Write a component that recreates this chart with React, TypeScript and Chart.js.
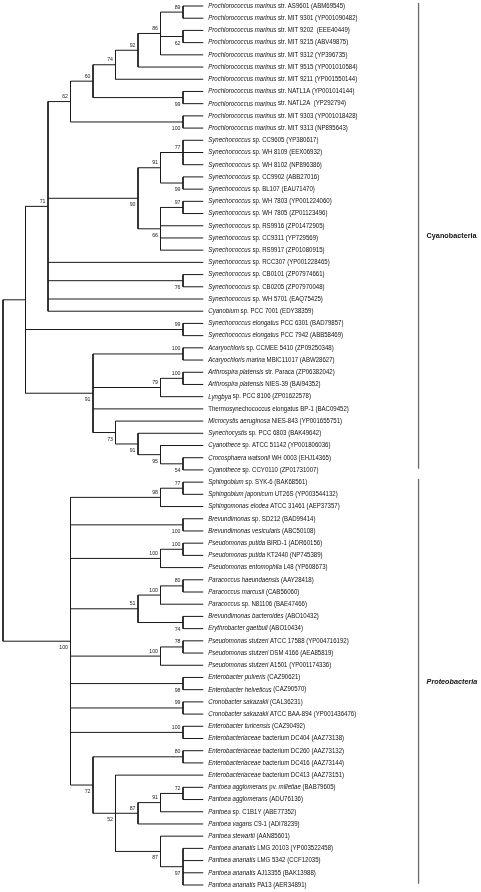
import React, { useEffect, useRef } from 'react';
import { Chart, registerables } from 'chart.js';
Chart.register(...registerables);

// ---- Leaf taxa (top to bottom); *...* marks italic text ----
const taxa: string[] = [
  '*Prochlorococcus marinus* str. AS9601',
  '*Prochlorococcus marinus* str. MIT 9301',
  '*Prochlorococcus marinus* str. MIT 9202',
  '*Prochlorococcus marinus* str. MIT 9215',
  '*Prochlorococcus marinus* str. MIT 9312',
  '*Prochlorococcus marinus* str. MIT 9515',
  '*Prochlorococcus marinus* str. MIT 9211',
  '*Prochlorococcus marinus* str. NATL1A',
  '*Prochlorococcus marinus* str. NATL2A',
  '*Prochlorococcus marinus* str. MIT 9303',
  '*Prochlorococcus marinus* str. MIT 9313',
  '*Synechococcus* sp. CC9605',
  '*Synechococcus* sp. WH 8109',
  '*Synechococcus* sp. WH 8102',
  '*Synechococcus* sp. CC9902',
  '*Synechococcus* sp. BL107',
  '*Synechococcus* sp. WH 7803',
  '*Synechococcus* sp. WH 7805',
  '*Synechococcus* sp. RS9916',
  '*Synechococcus* sp. CC9311',
  '*Synechococcus* sp. RS9917',
  '*Synechococcus* sp. RCC307',
  '*Synechococcus* sp. CB0101',
  '*Synechococcus* sp. CB0205',
  '*Synechococcus* sp. WH 5701',
  '*Cyanobium* sp. PCC 7001',
  '*Synechococcus elongatus* PCC 6301',
  '*Synechococcus elongatus* PCC 7942',
  '*Acaryochloris* sp. CCMEE 5410',
  '*Acaryochloris marina* MBIC11017',
  '*Arthrospira platensis* str. Paraca',
  '*Arthrospira platensis* NIES-39',
  '*Lyngbya* sp. PCC 8106',
  'Thermosynechococcus elongatus BP-1',
  '*Microcystis aeruginosa* NIES-843',
  '*Synechocystis* sp. PCC 6803',
  '*Cyanothece* sp. ATCC 51142',
  '*Crocosphaera watsonii* WH 0003',
  '*Cyanothece* sp. CCY0110',
  '*Sphingobium* sp. SYK-6',
  '*Sphingobium japonicum* UT26S',
  '*Sphingomonas elodea* ATCC 31461',
  '*Brevundimonas* sp. SD212',
  '*Brevundimonas vesicularis*',
  '*Pseudomonas putida* BIRD-1',
  '*Pseudomonas putida* KT2440',
  '*Pseudomonas entomophila* L48',
  '*Paracoccus haeundaensis*',
  '*Paracoccus marcusii*',
  '*Paracoccus* sp. N81106',
  '*Brevundimonas bacteroides*',
  '*Erythrobacter gaetbuli*',
  '*Pseudomonas stutzeri* ATCC 17588',
  '*Pseudomonas stutzeri* DSM 4166',
  '*Pseudomonas stutzeri* A1501',
  '*Enterobacter pulveris*',
  '*Enterobacter helveticus*',
  '*Cronobacter sakazakii*',
  '*Cronobacter sakazakii* ATCC BAA-894',
  '*Enterobacter turicensis*',
  '*Enterobacteriaceae* bacterium DC404',
  '*Enterobacteriaceae* bacterium DC260',
  '*Enterobacteriaceae* bacterium DC416',
  '*Enterobacteriaceae* bacterium DC413',
  '*Pantoea agglomerans* pv. *milletiae*',
  '*Pantoea agglomerans*',
  '*Pantoea* sp. C1B1Y',
  '*Pantoea vagans* C9-1',
  '*Pantoea stewartii*',
  '*Pantoea ananatis* LMG 20103',
  '*Pantoea ananatis* LMG 5342',
  '*Pantoea ananatis* AJ13355',
  '*Pantoea ananatis* PA13',
];

const accessions: string[] = [
  '(ABM69545)', '(YP001090482)', ' (EEE40449)', '(ABV49875)', '(YP396735)',
  '(YP001010584)', '(YP001550144)', '(YP001014144)', ' (YP292794)', '(YP001018428)',
  '(NP895643)', '(YP380617)', '(EEX06932)', '(NP896386)', '(ABB27016)',
  '(EAU71470)', '(YP001224060)', '(ZP01123496)', '(ZP01472905)', '(YP729569)',
  '(ZP01080915)', '(YP001228465)', '(ZP07974661)', '(ZP07970048)', '(EAQ75425)',
  '(EDY38359)', '(BAD79857)', '(ABB58469)', '(ZP09250348)', '(ABW28627)',
  '(ZP06382042)', '(BAI94352)', '(ZP01622578)', '(BAC09452)', '(YP001655751)',
  '(BAK49642)', '(YP001806036)', '(EHJ14365)', '(ZP01731007)', '(BAK68561)',
  '(YP003544132)', '(AEP37357)', '(BAD99414)', '(ABC50108)', '(ADR60156)',
  '(NP745389)', '(YP608673)', '(AAY28418)', '(CAB56060)', '(BAE47466)',
  '(ABO10432)', '(ABO10434)', '(YP004716192)', '(AEA85819)', '(YP001174336)',
  '(CAZ90621)', '(CAZ90570)', '(CAL36231)', '(YP001436476)', '(CAZ90492)',
  '(AAZ73138)', '(AAZ73132)', '(AAZ73144)', '(AAZ73151)', '(BAB79605)',
  '(ADU76136)', '(ABE77352)', '(ADI78239)', '(AAN85601)', '(YP003522458)',
  '(CCF12035)', '(BAK13988)', '(AER34891)',
];

// ---- Tree topology: internal nodes (children: leaf index or node id) ----
const nodeIds: string[] = [
  'A', 'B', 'C', 'D', 'E', 'F', 'G', 'H', 'I', 'J', 'K', 'L', 'M', 'N', 'O', 'P', 'Q', 'R',
  'U', 'W', 'V', 'AA', 'Z', 'Y', 'X', 'T', 'S',
  'BB', 'CC', 'DD', 'EE', 'FF', 'GG', 'HH', 'II', 'JJ', 'KK', 'LL', 'MM', 'NN', 'OO', 'PP',
  'QQ', 'RR', 'SS', 'TT', 'UU', 'VV', 'WW', 'XX', 'ROOT',
];
const nodeChildren: (number | string)[][] = [
  [0, 1], [2, 3], ['A', 'B', 4], ['C', 5], ['D', 6], [7, 8], ['E', 'F'], [9, 10], ['G', 'H'],
  [11, 12, 13], [14, 15], ['J', 'K'], [16, 17], ['M', 18, 19, 20], ['L', 'N'], [22, 23],
  ['I', 'O', 21, 'P', 24, 25], [26, 27],
  [28, 29], [30, 31], ['W', 32], [37, 38], [36, 'AA'], [35, 'Z'], [34, 'Y'], ['U', 'V', 33, 'X'],
  ['Q', 'R', 'T'],
  [39, 40], ['BB', 41], [42, 43], [44, 45], ['EE', 46], [47, 48], ['GG', 49], [50, 51],
  ['HH', 'II'], [52, 53], ['KK', 54], [55, 56], [57, 58], [59, 60], [61, 62],
  [64, 65], ['QQ', 66], ['RR', 67], [69, 70, 71, 72], [68, 'TT'], [63, 'SS', 'UU'], ['PP', 'VV'],
  ['CC', 'DD', 'FF', 'JJ', 'LL', 'MM', 'NN', 'OO', 'WW'],
  ['S', 'XX'],
];
const nodeSupport: (number | null)[] = [
  89, 62, 86, 92, 74, 99, 60, 100, 62, 77, 99, 91, 97, 66, 90, 76, 71, 99,
  100, 100, 79, 54, 95, 91, 73, 91, null,
  77, 98, 100, 100, 100, 80, 100, 74, 51, 78, 100, 98, 99, 100, 80,
  72, 91, 87, 97, 87, 52, 72, 100, null,
];
// 'a' = support value printed above the branch, 'b' = below
const supportSide: string[] = [
  'a', 'b', 'a', 'a', 'a', 'b', 'a', 'b', 'a', 'a', 'b', 'a', 'a', 'b', 'b', 'b', 'a', 'a',
  'a', 'a', 'a', 'b', 'b', 'b', 'b', 'b', 'a',
  'a', 'a', 'b', 'a', 'a', 'a', 'a', 'b', 'a', 'a', 'a', 'b', 'a', 'a', 'a',
  'a', 'a', 'a', 'b', 'b', 'b', 'b', 'b', 'a',
];

// ---- Groups bracketed on the right ----
const groupNames: string[] = ['Cyanobacteria', 'Proteobacteria'];
const groupFirstLeaf: number[] = [0, 39];
const groupLastLeaf: number[] = [38, 72];
const groupItalic: boolean[] = [false, true];

const LEAF_LEVEL = 8.9;
const BAR_LEVEL = 18.47;
const FONT = '"Liberation Sans", Arial, Helvetica, sans-serif';

type P = { x: number; y: number };

function buildTree() {
  const pos: Record<string, P> = {};
  const height: Record<string, number> = {};
  const key = (c: number | string) => (typeof c === 'number' ? 'L' + c : c);
  taxa.forEach((_, i) => {
    pos['L' + i] = { x: LEAF_LEVEL, y: i };
    height['L' + i] = 0;
  });
  nodeIds.forEach((id, k) => {
    const ch = nodeChildren[k].map(key);
    height[id] = 1 + Math.max(...ch.map((c) => height[c]));
  });
  const maxH = height[nodeIds[nodeIds.length - 1]];
  const segments: P[][] = [];
  nodeIds.forEach((id, k) => {
    const ch = nodeChildren[k].map(key);
    const p = { x: maxH - height[id], y: (pos[ch[0]].y + pos[ch[ch.length - 1]].y) / 2 };
    pos[id] = p;
    segments.push([{ x: p.x, y: pos[ch[0]].y }, { x: p.x, y: pos[ch[ch.length - 1]].y }]);
    ch.forEach((c) => segments.push([{ x: p.x, y: pos[c].y }, { x: pos[c].x, y: pos[c].y }]));
  });
  return { pos, segments };
}

function drawRich(
  ctx: CanvasRenderingContext2D, str: string, x: number, y: number,
  size: number, sx: number, weight: string, allItalic = false,
) {
  const parts = str.split('*');
  ctx.save();
  ctx.translate(x, y);
  ctx.scale(sx, 1);
  ctx.textAlign = 'left';
  ctx.textBaseline = 'middle';
  let cx = 0;
  parts.forEach((p, i) => {
    if (!p) return;
    const it = allItalic || i % 2 === 1;
    ctx.font = `${it ? 'italic ' : ''}${weight} ${size}px ${FONT}`;
    ctx.fillText(p, cx, 0);
    cx += ctx.measureText(p).width;
  });
  ctx.restore();
}

export default function App() {
  const ref = useRef<HTMLCanvasElement | null>(null);

  useEffect(() => {
    document.body.style.margin = '0';
    const canvas = ref.current;
    if (!canvas) return;
    const { pos, segments } = buildTree();

    const datasets: any[] = segments.map((s) => ({
      data: s,
      showLine: true,
      borderColor: '#1a1a1a',
      borderWidth: 1,
      pointRadius: 0,
      clip: false,
    }));
    groupNames.forEach((_, g) => {
      datasets.push({
        data: [
          { x: BAR_LEVEL, y: groupFirstLeaf[g] - 0.25 },
          { x: BAR_LEVEL, y: groupLastLeaf[g] - 0.1 },
        ],
        showLine: true,
        borderColor: '#6a6a6a',
        borderWidth: 1.3,
        pointRadius: 0,
        clip: false,
      });
    });

    const textPlugin = {
      id: 'treeText',
      afterDatasetsDraw(chart: any) {
        const { ctx, scales } = chart;
        const xs = scales.x;
        const ys = scales.y;
        ctx.save();
        ctx.fillStyle = '#111';
        taxa.forEach((t, i) => {
          const px = xs.getPixelForValue(LEAF_LEVEL) + 5;
          const py = ys.getPixelForValue(i);
          drawRich(ctx, t + ' ' + accessions[i], px, py, 6.6, 0.92, '');
        });
        ctx.fillStyle = '#222';
        nodeIds.forEach((id, k) => {
          const v = nodeSupport[k];
          if (v === null) return;
          const p = pos[id];
          const px = xs.getPixelForValue(p.x) - 2.5;
          const py = ys.getPixelForValue(p.y) + (supportSide[k] === 'a' ? -5 : 6.5);
          ctx.save();
          ctx.translate(px, py);
          ctx.scale(0.95, 1);
          ctx.font = `5.5px ${FONT}`;
          ctx.textAlign = 'right';
          ctx.textBaseline = 'middle';
          ctx.fillText(String(v), 0, 0);
          ctx.restore();
        });
        ctx.fillStyle = '#111';
        groupNames.forEach((name, g) => {
          const px = xs.getPixelForValue(BAR_LEVEL) + 8;
          const py = ys.getPixelForValue((groupFirstLeaf[g] - 0.25 + groupLastLeaf[g] - 0.1) / 2);
          drawRich(ctx, name, px, py, 7.8, 0.93, 'bold', groupItalic[g]);
        });
        ctx.restore();
      },
    };

    const chart = new Chart(canvas, {
      type: 'scatter',
      data: { datasets },
      options: {
        animation: false,
        responsive: false,
        events: [],
        layout: { padding: { left: 3, right: 481 - 183, top: 6, bottom: 7 } },
        scales: {
          x: { type: 'linear', min: 0, max: 8, display: false },
          y: { type: 'linear', min: 0, max: taxa.length - 1, reverse: true, display: false },
        },
        plugins: { legend: { display: false }, tooltip: { enabled: false } },
      },
      plugins: [textPlugin],
    });
    return () => chart.destroy();
  }, []);

  return (
    <div style={{ width: 481, height: 892, background: '#fff' }}>
      <canvas ref={ref} width={481} height={892} style={{ display: 'block' }} />
    </div>
  );
}
